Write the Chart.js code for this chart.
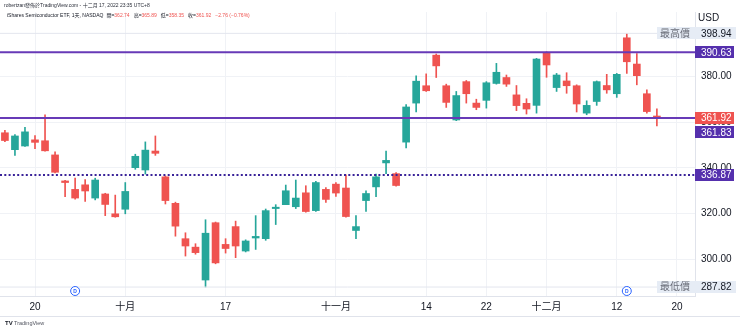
<!DOCTYPE html>
<html>
<head>
<meta charset="utf-8">
<script src="https://cdn.jsdelivr.net/npm/chart.js@4.4.0/dist/chart.umd.min.js"></script>
<style>
  html, body { margin: 0; padding: 0; background: #ffffff; }
</style>
</head>
<body>
<canvas id="myChart" width="740" height="330"></canvas>
<script>
'use strict';

//daily candles, sept 15 2022 -> dec 16 2022 (index 0..65)
let opens = [355.4, 348.0, 349.6, 352.3, 351.9, 345.7, 334.3, 330.6, 332.6, 326.8,
    328.6, 319.9, 321.9, 340.1, 339.1, 347.4, 336.1, 324.5, 309.0, 305.3,
    290.9, 316.0, 306.5, 314.3, 303.6, 309.3, 309.0, 322.2, 323.9, 323.0,
    329.1, 321.3, 330.6, 332.9, 331.2, 312.6, 325.7, 331.7, 342.2, 337.5,
    351.3, 368.4, 376.0, 389.4, 376.0, 361.0, 377.8, 368.4, 369.6, 377.0,
    379.6, 372.0, 368.3, 367.4, 390.4, 375.2, 378.1, 376.0, 364.0, 369.1,
    376.1, 372.5, 397.0, 385.5, 372.5, 362.74];
let highs = [356.5, 354.6, 357.8, 354.2, 363.3, 347.1, 334.6, 335.5, 334.9, 335.5,
    328.9, 328.1, 333.6, 346.0, 351.4, 354.0, 336.5, 325.0, 311.6, 306.8,
    317.3, 316.3, 309.0, 316.7, 308.5, 319.1, 322.0, 323.9, 332.5, 334.7,
    332.2, 334.1, 331.4, 333.6, 337.0, 319.1, 330.0, 337.3, 347.4, 338.0,
    367.7, 380.3, 381.2, 389.9, 376.7, 373.5, 378.3, 370.1, 377.8, 385.8,
    380.7, 376.1, 370.3, 388.0, 390.9, 381.4, 381.7, 376.4, 369.4, 378.1,
    381.0, 381.4, 398.94, 390.1, 374.2, 365.89];
let lows = [351.5, 345.5, 349.4, 348.4, 347.3, 337.8, 327.4, 326.3, 325.3, 326.0,
    319.1, 318.4, 319.9, 339.4, 337.3, 345.5, 324.2, 310.1, 301.4, 302.2,
    287.82, 298.0, 302.7, 300.7, 303.2, 304.3, 308.3, 315.2, 323.9, 322.2,
    320.6, 320.9, 324.9, 327.5, 318.4, 309.0, 321.0, 327.4, 337.5, 332.0,
    348.8, 364.5, 373.5, 379.6, 366.5, 360.7, 368.4, 365.5, 366.2, 376.7,
    375.7, 365.1, 363.6, 364.0, 379.7, 373.5, 372.7, 364.5, 363.3, 367.4,
    372.7, 370.9, 381.4, 376.4, 364.0, 358.35];
let closes = [352.0, 354.0, 355.8, 351.2, 347.5, 338.1, 333.6, 326.8, 329.9, 334.7,
    324.0, 318.6, 329.7, 345.1, 347.8, 346.4, 325.7, 314.5, 305.8, 302.9,
    311.4, 298.4, 304.7, 305.8, 308.0, 310.0, 321.3, 322.8, 330.0, 326.8,
    320.9, 333.6, 326.2, 329.0, 318.7, 314.3, 328.8, 336.1, 343.3, 332.3,
    366.7, 378.0, 373.8, 384.7, 368.7, 371.7, 372.5, 366.5, 377.3, 381.9,
    376.7, 367.3, 365.8, 387.7, 385.1, 380.7, 376.0, 368.0, 367.4, 377.8,
    374.2, 381.0, 386.5, 380.4, 364.68, 361.92];

//time axis ticks (trading day index -> text)
let tickIdx = [3, 12, 22, 33, 42, 48, 54, 61, 67];
let tickLabels = ['20', '十月', '17', '十一月', '14', '22', '十二月', '12', '20'];
//price axis ticks
let priceTicks = [300, 320, 340, 360, 380];

//user drawn levels
let solidLevels = [390.63, 361.83];
let dottedLevel = 336.87;
let highPrice = 398.94;
let lowPrice = 287.82;
let lastPrice = closes[closes.length - 1];
//dividend days
let dividendIdx = [7, 62];

let headerText = 'robertzan發佈於TradingView.com - 十二月 17, 2022 23:35 UTC+8';
let symbolText = 'iShares Semiconductor ETF, 1天, NASDAQ';

let upColor = '#26a69a';
let downColor = '#ef5350';
let levelColor = '#673ab7';
let tagColor = '#5530ad';
let dotColor = '#3a2399';
let fontFamily = '"Liberation Sans", "Noto Sans CJK TC", sans-serif';

//visible range of the axes
let xMin = -0.49;
let xMax = 68.8;
let yMin = 283.9;
let yMax = 408.3;

let idx = opens.map((o, i) => i);
let candleColors = opens.map((o, i) => closes[i] >= o ? upColor : downColor);

//a flat line from one side of the pane to the other
function levelLine(value, color, width, dash) {
    return {
        type: 'line',
        data: [{ x: xMin, y: value }, { x: xMax, y: value }],
        borderColor: color,
        borderWidth: width,
        borderDash: dash || [],
        pointRadius: 0,
        order: 0
    };
}

//small box with text on the price axis
function drawTag(ctx, left, centerY, width, bg, text, color) {
    ctx.fillStyle = bg;
    ctx.fillRect(left, Math.round(centerY - 6), width, 12);
    ctx.fillStyle = color;
    ctx.textBaseline = 'middle';
    ctx.textAlign = 'left';
    ctx.fillText(text, left + 6, centerY + 0.5);
}

let overlay = {
    id: 'overlay',
    afterDraw(chart) {
        let ctx = chart.ctx;
        let xs = chart.scales.x;
        let ys = chart.scales.y;
        let area = chart.chartArea;
        ctx.save();

        //header lines
        ctx.textBaseline = 'middle';
        ctx.textAlign = 'left';
        ctx.font = '5px ' + fontFamily;
        ctx.fillStyle = '#2a2e39';
        ctx.fillText(headerText, 4, 5.5);
        let px = 7;
        ctx.fillStyle = '#131722';
        ctx.fillText(symbolText, px, 16);
        px += ctx.measureText(symbolText).width + 3;
        let n = closes.length - 1;
        let legend = [['開', opens[n]], ['高', highs[n]], ['低', lows[n]], ['收', closes[n]]];
        legend.forEach(item => {
            ctx.fillStyle = '#131722';
            ctx.fillText(item[0] + '=', px, 16);
            px += ctx.measureText(item[0] + '=').width;
            ctx.fillStyle = downColor;
            ctx.fillText(item[1].toFixed(2), px, 16);
            px += ctx.measureText(item[1].toFixed(2)).width + 4;
        });
        let change = closes[n] - closes[n - 1];
        let pct = change / closes[n - 1] * 100;
        ctx.fillStyle = downColor;
        ctx.fillText('\u2212' + Math.abs(change).toFixed(2) + ' (\u2212' + Math.abs(pct).toFixed(2) + '%)', px, 16);

        //currency
        ctx.font = '10px ' + fontFamily;
        ctx.fillStyle = '#131722';
        ctx.fillText('USD', area.right + 3, 18);

        //dividend marks
        dividendIdx.forEach(d => {
            let cx = xs.getPixelForValue(d);
            let cy = area.bottom - 5;
            ctx.beginPath();
            ctx.arc(cx, cy, 4.5, 0, Math.PI * 2);
            ctx.fillStyle = '#ffffff';
            ctx.fill();
            ctx.strokeStyle = '#2962ff';
            ctx.lineWidth = 1;
            ctx.stroke();
            ctx.fillStyle = '#2962ff';
            ctx.font = 'bold 5px ' + fontFamily;
            ctx.textAlign = 'center';
            ctx.fillText('D', cx, cy + 0.5);
        });

        //price tags, pushed down when they overlap
        ctx.font = '10px ' + fontFamily;
        let tags = [
            { value: solidLevels[0], bg: tagColor },
            { value: lastPrice, bg: downColor },
            { value: solidLevels[1], bg: tagColor },
            { value: dottedLevel, bg: tagColor }
        ];
        let prev = -100;
        tags.forEach(t => {
            let cy = ys.getPixelForValue(t.value);
            if (cy < prev + 14.5) {
                cy = prev + 14.5;
            }
            prev = cy;
            drawTag(ctx, area.right, cy, 39, t.bg, t.value.toFixed(2), '#ffffff');
        });

        //highest / lowest tags
        [['最高價', highPrice], ['最低價', lowPrice]].forEach(h => {
            let cy = ys.getPixelForValue(h[1]);
            ctx.fillStyle = '#e6ecf5';
            ctx.fillRect(area.right - 38, Math.round(cy - 6), 79, 12);
            ctx.fillStyle = '#6a6d78';
            ctx.fillText(h[0], area.right - 35, cy + 0.5);
            ctx.fillStyle = '#131722';
            ctx.fillText(h[1].toFixed(2), area.right + 6, cy + 0.5);
        });

        //time axis bottom border
        ctx.strokeStyle = '#e0e3eb';
        ctx.lineWidth = 1;
        ctx.beginPath();
        ctx.moveTo(0, xs.bottom + 0.5);
        ctx.lineTo(740, xs.bottom + 0.5);
        ctx.stroke();

        //footer logo
        ctx.fillStyle = '#131722';
        ctx.font = 'bold 6px ' + fontFamily;
        ctx.fillText('TV', 5, 323);
        ctx.font = '5.5px ' + fontFamily;
        ctx.fillStyle = '#50535e';
        ctx.fillText('TradingView', 14, 323);
        ctx.restore();
    }
};

let ctx = document.getElementById('myChart').getContext('2d');
let chart = new Chart(ctx, {
    type: 'bar',
    data: {
        datasets: [
            levelLine(highPrice, '#e3e6ee', 1),
            levelLine(lowPrice, '#e3e6ee', 1),
            levelLine(solidLevels[0], levelColor, 2),
            levelLine(solidLevels[1], levelColor, 2),
            levelLine(dottedLevel, dotColor, 2, [2, 2.3]),
            {
                //wicks
                type: 'bar',
                data: idx.map(i => ({ x: i, y: [lows[i], highs[i]] })),
                backgroundColor: candleColors,
                barThickness: 1,
                grouped: false,
                order: 2
            },
            {
                //bodies
                type: 'bar',
                data: idx.map(i => ({ x: i, y: [opens[i], closes[i]] })),
                backgroundColor: candleColors,
                barThickness: 7,
                minBarLength: 1,
                grouped: false,
                order: 1
            }
        ]
    },
    options: {
        responsive: false,
        animation: false,
        devicePixelRatio: 1,
        layout: { padding: { top: 10, bottom: 14, left: 0, right: 0 } },
        plugins: {
            legend: { display: false },
            tooltip: { enabled: false }
        },
        scales: {
            x: {
                type: 'linear',
                offset: false,
                min: xMin,
                max: xMax,
                afterBuildTicks: s => { s.ticks = tickIdx.map(v => ({ value: v })); },
                afterFit: s => { s.height = 20; },
                ticks: {
                    autoSkip: false,
                    maxRotation: 0,
                    padding: 5,
                    color: '#131722',
                    font: { family: fontFamily, size: 10 },
                    callback: (v, i) => tickLabels[i]
                },
                grid: { color: '#f0f2f6', drawTicks: false, offset: false },
                border: { color: '#e0e3eb' }
            },
            y: {
                type: 'linear',
                position: 'right',
                min: yMin,
                max: yMax,
                afterBuildTicks: s => { s.ticks = priceTicks.map(v => ({ value: v })); },
                afterFit: s => { s.width = 45; },
                ticks: {
                    padding: 6,
                    color: '#131722',
                    font: { family: fontFamily, size: 10 },
                    callback: v => v.toFixed(2)
                },
                grid: { color: '#f0f2f6', drawTicks: false },
                border: { color: '#e0e3eb' }
            }
        }
    },
    plugins: [overlay]
});
</script>
</body>
</html>
